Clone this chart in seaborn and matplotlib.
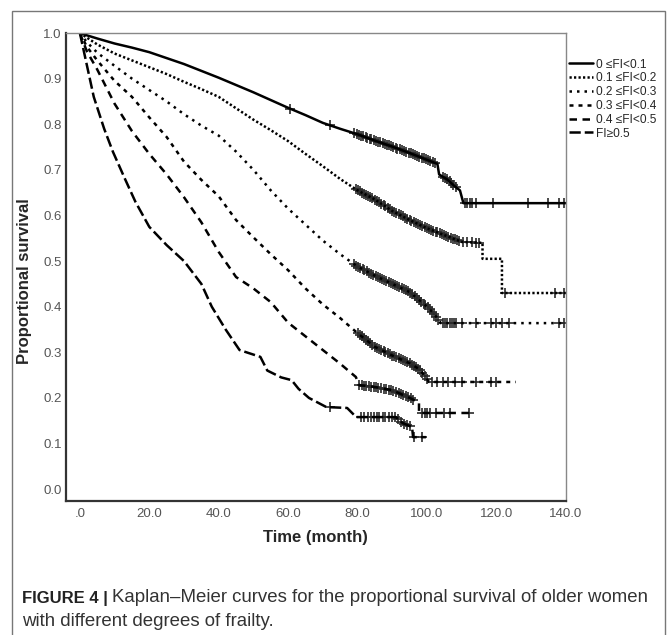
"""Kaplan-Meier survival curves by frailty index group."""

import matplotlib.pyplot as plt
import numpy as np
import pandas as pd
import seaborn as sns
from matplotlib.patches import Rectangle

groups = ["0 \u2264FI<0.1", "0.1 \u2264FI<0.2", "0.2 \u2264FI<0.3",
          "0.3 \u2264FI<0.4", "0.4 \u2264FI<0.5", "FI\u22650.5"]

# survival curves (time in months)
t1 = [0, 2, 5, 10, 15, 20, 25, 30, 35, 40, 45, 50, 55, 60, 65, 70, 75, 80, 85,
      90, 95, 100, 103, 103.5, 106, 108, 109.5, 110.5, 140]
s1 = [1.0, 0.995, 0.988, 0.977, 0.968, 0.958, 0.945, 0.932, 0.917, 0.902,
      0.886, 0.870, 0.853, 0.836, 0.820, 0.803, 0.790, 0.778, 0.764, 0.751,
      0.737, 0.722, 0.713, 0.690, 0.678, 0.664, 0.655, 0.627, 0.627]

t2 = [0, 2, 5, 10, 15, 20, 25, 30, 35, 40, 45, 50, 55, 60, 65, 70, 75, 80, 85,
      90, 95, 100, 105, 110, 116, 116, 121.6, 121.6, 140]
s2 = [1.0, 0.99, 0.975, 0.955, 0.94, 0.925, 0.91, 0.893, 0.877, 0.86, 0.835,
      0.81, 0.787, 0.763, 0.735, 0.708, 0.68, 0.655, 0.635, 0.61, 0.59, 0.572,
      0.557, 0.542, 0.54, 0.505, 0.505, 0.43, 0.43]

t3 = [0, 2, 5, 10, 15, 20, 25, 30, 35, 40, 45, 50, 55, 60, 65, 70, 75, 80, 85,
      90, 95, 100, 102, 104, 140]
s3 = [1.0, 0.98, 0.957, 0.928, 0.9, 0.875, 0.85, 0.822, 0.797, 0.775, 0.74,
      0.70, 0.655, 0.615, 0.58, 0.545, 0.515, 0.488, 0.468, 0.45, 0.432, 0.40,
      0.385, 0.364, 0.364]

t4 = [0, 2, 5, 10, 15, 20, 25, 30, 35, 40, 45, 50, 55, 60, 65, 70, 75, 80, 85,
      90, 95, 98, 100.6, 125.6]
s4 = [1.0, 0.97, 0.94, 0.895, 0.86, 0.815, 0.772, 0.718, 0.678, 0.642, 0.59,
      0.552, 0.515, 0.48, 0.44, 0.405, 0.375, 0.342, 0.312, 0.293, 0.276,
      0.262, 0.235, 0.235]

t5 = [0, 2, 5, 10, 15, 20, 25, 30, 35, 40, 45, 50, 55, 60, 65, 70, 75, 79.5,
      80.5, 85, 90, 95, 97.7, 97.7, 112.6]
s5 = [1.0, 0.96, 0.92, 0.845, 0.785, 0.735, 0.69, 0.64, 0.585, 0.52, 0.465,
      0.44, 0.41, 0.365, 0.335, 0.305, 0.275, 0.246, 0.228, 0.224, 0.217, 0.2,
      0.19, 0.167, 0.167]

t6 = [0, 2, 4, 7, 9.5, 13, 16, 20, 25, 30, 35, 38, 42, 46, 50, 52, 54, 58, 61,
      63, 66, 71, 77, 79.6, 91, 93, 95.7, 96, 99.7]
s6 = [1.0, 0.93, 0.86, 0.79, 0.74, 0.68, 0.63, 0.575, 0.535, 0.50, 0.45, 0.40,
      0.35, 0.305, 0.295, 0.29, 0.26, 0.245, 0.239, 0.22, 0.20, 0.18, 0.178,
      0.158, 0.158, 0.145, 0.136, 0.114, 0.114]

# censoring times
c1 = [60.5, 72, 79, 79.8, 80.5, 81, 81.5, 82.3, 82.8, 83.5, 84, 84.7, 85.3,
      86, 86.5, 87.2, 87.8, 88.5, 89, 89.6, 90.3, 91, 91.5, 92.2, 92.8, 93.5,
      94, 94.7, 95.3, 96, 96.5, 97.2, 97.8, 98.5, 99, 99.7, 100.4, 101, 101.6,
      102.3, 104.5, 105.2, 105.8, 106.5, 107, 107.6, 108.3, 111, 111.6, 112.3,
      113, 114, 119, 129, 135, 138, 139.5]
c2 = [79.5, 80, 80.6, 81.2, 81.8, 82.5, 83, 83.7, 84.3, 85, 85.5, 86.2, 86.8,
      87.5, 88, 88.7, 89.3, 90, 90.5, 91.2, 91.8, 92.5, 93, 93.7, 94.3, 95,
      95.5, 96.2, 96.8, 97.5, 98, 98.7, 99.3, 100, 100.5, 101.2, 101.8, 102.5,
      103, 103.7, 104.3, 105, 105.5, 106.2, 106.8, 107.5, 108, 108.7, 109.3,
      110.5, 111.5, 113, 114, 115, 122.5, 137, 139.5]
c3 = [79, 79.6, 80.2, 80.8, 81.5, 82, 82.7, 83.3, 84, 84.5, 85.2, 85.8, 86.5,
      87, 87.7, 88.3, 89, 89.5, 90.2, 90.8, 91.5, 92, 92.7, 93.3, 94, 94.5,
      95.2, 95.8, 96.5, 97, 97.7, 98.3, 99, 99.5, 100.2, 100.8, 101.5, 102,
      102.7, 103.3, 104.5, 105.2, 105.8, 106.5, 107.2, 107.8, 108.5, 110, 114,
      118.5, 120, 121.5, 123.5, 138, 139.5]
c4 = [80, 80.6, 81.2, 81.8, 82.5, 83, 83.7, 84.3, 85, 85.5, 86.2, 86.8, 87.5,
      88, 88.7, 89.3, 90, 90.6, 91.2, 91.8, 92.5, 93, 93.7, 94.3, 95, 95.6,
      96.2, 96.8, 97.5, 98, 98.7, 99.3, 100, 101.5, 103, 104.5, 106, 108, 110,
      114, 118.5, 120]
c5 = [80.5, 81.2, 81.8, 82.5, 83.2, 84, 84.6, 85.2, 86, 86.7, 87.5, 88.2, 89,
      89.6, 90.3, 91, 91.8, 92.5, 93.2, 94, 94.6, 95.3, 96, 98.5, 99.3, 100,
      101, 102.5, 105, 106.5, 112]
c6 = [72, 81, 82, 83, 83.8, 84.6, 85.5, 86.3, 87.2, 88, 89, 90, 90.8, 91.6,
      92.5, 93.5, 94.3, 95.2, 96.3, 98.5]

x_ticks = [0, 20, 40, 60, 80, 100, 120, 140]
x_labels = [".0", "20.0", "40.0", "60.0", "80.0", "100.0", "120.0", "140.0"]
y_ticks = [0.0, 0.1, 0.2, 0.3, 0.4, 0.5, 0.6, 0.7, 0.8, 0.9, 1.0]

curves = list(zip(groups, [t1, t2, t3, t4, t5, t6], [s1, s2, s3, s4, s5, s6]))
censors = [c1, c2, c3, c4, c5, c6]

df = pd.concat([pd.DataFrame({"time": t, "surv": s, "group": g})
                for g, t, s in curves], ignore_index=True)
cens = pd.concat([pd.DataFrame({"time": c, "surv": np.interp(c, t, s), "group": g})
                  for (g, t, s), c in zip(curves, censors)], ignore_index=True)

dash_map = dict(zip(groups, ["", (0.9, 0.9), (1.0, 2.0), (1.6, 2.0),
                             (3.0, 2.2), (4.5, 1.6)]))

sns.set_style("white")
plt.rcParams["font.family"] = ["Liberation Sans", "DejaVu Sans"]

fig = plt.figure(figsize=(6.7, 6.35), dpi=100)
ax = fig.add_axes([0.0985, 0.211, 0.746, 0.737])

sns.lineplot(data=df, x="time", y="surv", style="group", dashes=dash_map,
             color="black", linewidth=1.8, estimator=None, sort=False, ax=ax)
sns.scatterplot(data=cens, x="time", y="surv", marker="+", s=50, color="#2a2a2a",
                linewidth=1.2, legend=False, ax=ax)

ax.set_xlim(-4, 140)
ax.set_ylim(-0.026, 1.0)
ax.set_xticks(x_ticks)
ax.set_xticklabels(x_labels)
ax.set_yticks(y_ticks)
ax.set_yticklabels([f"{v:.1f}" for v in y_ticks])
ax.tick_params(axis="x", direction="in", length=6, width=1.2, colors="#333333",
               labelsize=9.5, labelcolor="#555555", pad=5)
ax.tick_params(axis="y", direction="inout", length=12, width=1.2, colors="#333333",
               labelsize=9.5, labelcolor="#555555", pad=-3)

for side in ["left", "bottom"]:
    ax.spines[side].set_color("#333333")
    ax.spines[side].set_linewidth(1.6)
for side in ["top", "right"]:
    ax.spines[side].set_color("#888888")
    ax.spines[side].set_linewidth(1.0)

ax.set_xlabel("Time (month)", fontsize=12, fontweight="bold", labelpad=7)
ax.set_ylabel("Proportional survival", fontsize=12, fontweight="bold")
ax.yaxis.set_label_coords(-0.068, 0.47)

handles, labels = ax.get_legend_handles_labels()
ax.legend(handles, labels, loc="upper left", bbox_to_anchor=(1.0, 0.953),
          frameon=False, fontsize=8.6, handlelength=2.0, handletextpad=0.2,
          labelspacing=0.15, borderaxespad=0.0, borderpad=0.3)

# outer frame and caption
fig.patches.append(Rectangle((12 / 670, -0.01), 653 / 670, 1 - 11 / 635 + 0.01,
                             transform=fig.transFigure, fill=False,
                             edgecolor="#777777", linewidth=1.0))
bold = fig.text(22 / 670, 1 - 598 / 635, "FIGURE 4 |", fontsize=12,
                fontweight="bold", va="center", color="#222222")
fig.canvas.draw()
bb = bold.get_window_extent().transformed(fig.transFigure.inverted())
fig.text(bb.x1 + 4 / 670, 1 - 598 / 635,
         "Kaplan\u2013Meier curves for the proportional survival of older women",
         fontsize=13.4, va="center", color="#333333")
fig.text(22 / 670, 1 - 621 / 635, "with different degrees of frailty.",
         fontsize=13.4, va="center", color="#333333")

fig.savefig("out.png", dpi=100)
